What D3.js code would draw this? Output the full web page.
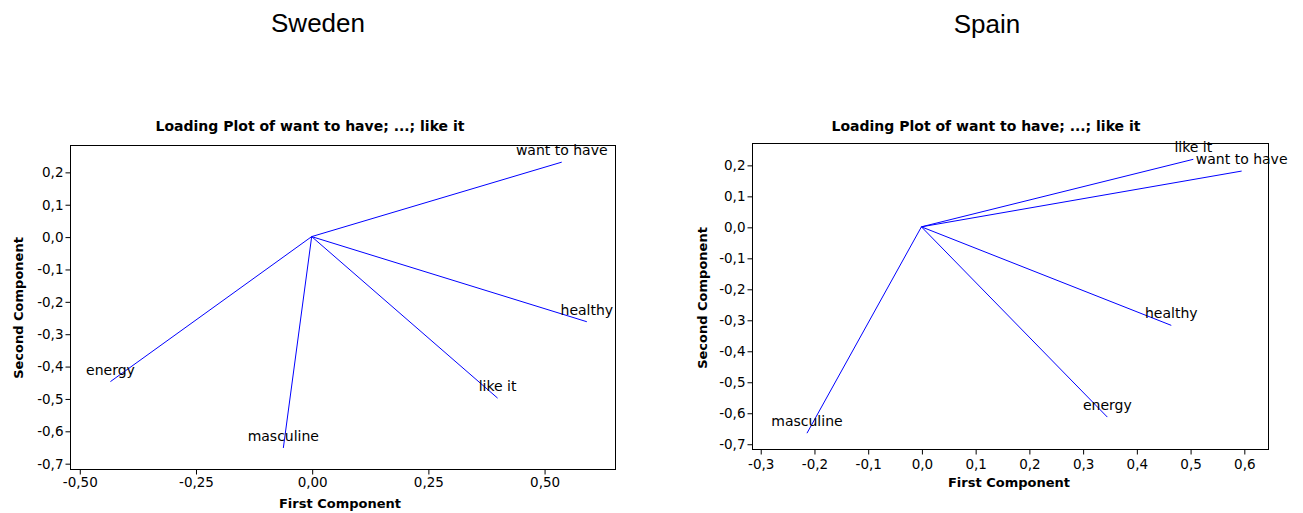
<!DOCTYPE html>
<html>
<head>
<meta charset="utf-8">
<script src="https://cdnjs.cloudflare.com/ajax/libs/d3/7.8.5/d3.min.js"></script>
<style>
  body { margin: 0; background: #fff; }
  svg { display: block; }
  .tick text { font-family: "DejaVu Sans", Verdana, sans-serif; font-size: 13.5px; fill: #000; }
  .tick line { stroke: #000; }
</style>
</head>
<body>
<div id="container"></div>
<script>
// Loading values (first / second component)
var swedenVars = ["want to have", "healthy", "like it", "energy", "masculine"];
var swedenPC1 = [0.538, 0.592, 0.400, -0.433, -0.061];
var swedenPC2 = [0.230, -0.263, -0.499, -0.448, -0.653];

var spainVars = ["like it", "want to have", "healthy", "energy", "masculine"];
var spainPC1 = [0.506, 0.596, 0.465, 0.346, -0.213];
var spainPC2 = [0.218, 0.180, -0.318, -0.614, -0.666];

// Tick values
var swedenXTicks = [-0.5, -0.25, 0, 0.25, 0.5];
var swedenYTicks = [0.2, 0.1, 0, -0.1, -0.2, -0.3, -0.4, -0.5, -0.6, -0.7];
var spainXTicks = [-0.3, -0.2, -0.1, 0, 0.1, 0.2, 0.3, 0.4, 0.5, 0.6];
var spainYTicks = [0.2, 0.1, 0, -0.1, -0.2, -0.3, -0.4, -0.5, -0.6, -0.7];

var countries = ["Sweden", "Spain"];
var plotTitle = "Loading Plot of want to have; ...; like it";

var canvas = d3.select("div#container")
    .append("svg")
    .attr("width", 1303)
    .attr("height", 513);

// comma decimal separator, plain hyphen for minus
var locale = d3.formatLocale({decimal: ",", thousands: ".", grouping: [3], currency: ["", ""], minus: "-"});
function commaFormat(digits) {
    return locale.format("." + digits + "f");
}

function drawPanel(p) {
    var xScale = d3.scaleLinear().domain(p.xDomain).range([p.left, p.right]);
    var yScale = d3.scaleLinear().domain(p.yDomain).range([p.bottom, p.top]);

    // heading above the plot
    canvas.append("text")
        .attr("x", p.headX).attr("y", p.headY)
        .attr("text-anchor", "middle")
        .style("font-family", "'Liberation Sans', Arial, sans-serif")
        .style("font-size", "26px")
        .text(p.country);

    // plot title
    canvas.append("text")
        .attr("x", p.titleX).attr("y", p.titleY)
        .attr("text-anchor", "middle")
        .style("font-family", "'DejaVu Sans', Verdana, sans-serif")
        .style("font-size", "14px")
        .style("font-weight", "bold")
        .text(plotTitle);

    // axes
    var yAxis = d3.axisLeft(yScale)
        .tickValues(p.yTicks)
        .tickFormat(commaFormat(1))
        .tickSizeInner(5).tickSizeOuter(0).tickPadding(2);
    var xAxis = d3.axisBottom(xScale)
        .tickValues(p.xTicks)
        .tickFormat(commaFormat(p.xDigits))
        .tickSizeInner(5).tickSizeOuter(0).tickPadding(p.xPad);

    canvas.append("g")
        .attr("transform", "translate(" + (p.left + 0.5) + ",0.5)")
        .call(yAxis)
        .select(".domain").remove();
    canvas.append("g")
        .attr("transform", "translate(0.5," + (p.bottom + 0.5) + ")")
        .call(xAxis)
        .select(".domain").remove();

    // frame
    canvas.append("rect")
        .attr("x", p.left + 0.5).attr("y", p.top + 0.5)
        .attr("width", p.right - p.left).attr("height", p.bottom - p.top)
        .attr("fill", "none").attr("stroke", "#000").attr("stroke-width", 1);

    // loading lines from origin
    var rows = p.vars.map(function(v, i) { return {name: v, x: p.pc1[i], y: p.pc2[i]}; });
    canvas.selectAll(".load" + p.country)
        .data(rows)
        .enter()
        .append("line")
        .attr("x1", xScale(0)).attr("y1", yScale(0))
        .attr("x2", function(d) { return xScale(d.x); })
        .attr("y2", function(d) { return yScale(d.y); })
        .attr("stroke", "#0000ff").attr("stroke-width", 1);

    canvas.selectAll(".lab" + p.country)
        .data(rows)
        .enter()
        .append("text")
        .attr("x", function(d) { return xScale(d.x); })
        .attr("y", function(d) { return yScale(d.y) - 7; })
        .attr("text-anchor", "middle")
        .style("font-family", "'DejaVu Sans', Verdana, sans-serif")
        .style("font-size", "14px")
        .style("fill", "#000")
        .text(function(d) { return d.name; });

    // axis labels
    canvas.append("text")
        .attr("x", p.xLabX).attr("y", p.xLabY)
        .attr("text-anchor", "middle")
        .style("font-family", "'DejaVu Sans', Verdana, sans-serif")
        .style("font-size", "13px").style("font-weight", "bold")
        .text("First Component");
    canvas.append("text")
        .attr("transform", "translate(" + p.yLabX + "," + p.yLabY + ") rotate(-90)")
        .attr("text-anchor", "middle")
        .style("font-family", "'DejaVu Sans', Verdana, sans-serif")
        .style("font-size", "13px").style("font-weight", "bold")
        .text("Second Component");
}

drawPanel({
    country: countries[0], vars: swedenVars, pc1: swedenPC1, pc2: swedenPC2,
    xTicks: swedenXTicks, yTicks: swedenYTicks, xDigits: 2, xPad: 3,
    left: 70, right: 615, top: 145, bottom: 469,
    xDomain: [-0.52, 0.6526], yDomain: [-0.718, 0.283],
    headX: 318, headY: 32, titleX: 310, titleY: 131,
    xLabX: 340, xLabY: 508, yLabX: 23, yLabY: 308
});

drawPanel({
    country: countries[1], vars: spainVars, pc1: spainPC1, pc2: spainPC2,
    xTicks: spainXTicks, yTicks: spainYTicks, xDigits: 1, xPad: 5,
    left: 752, right: 1268, top: 143, bottom: 449,
    xDomain: [-0.3153, 0.645], yDomain: [-0.717, 0.2706],
    headX: 987, headY: 33, titleX: 986, titleY: 131,
    xLabX: 1009, xLabY: 487, yLabX: 707, yLabY: 298
});
</script>
</body>
</html>
